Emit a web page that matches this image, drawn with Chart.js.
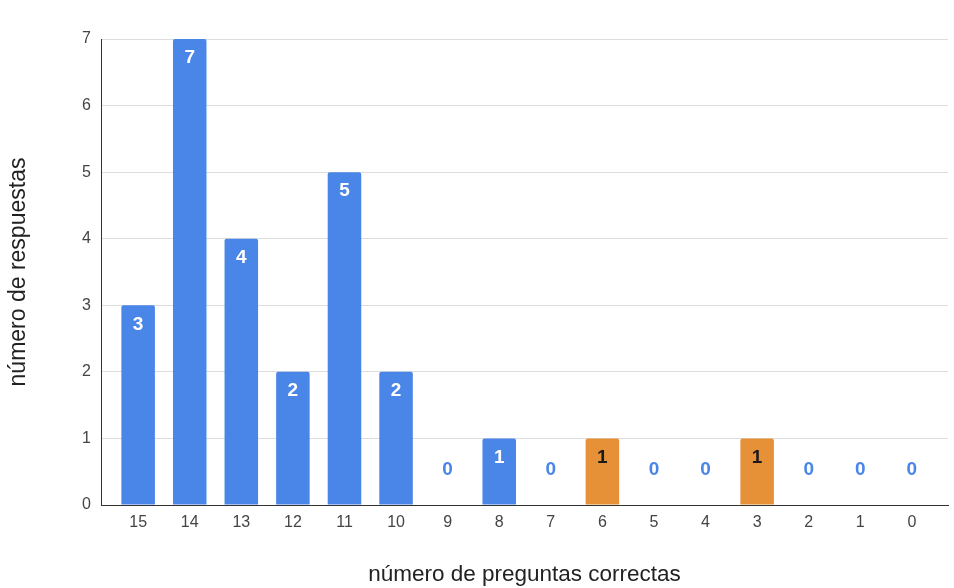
<!DOCTYPE html>
<html>
<head>
<meta charset="utf-8">
<script src="https://cdn.jsdelivr.net/npm/chart.js@4"></script>
<style>
    html, body { margin: 0; padding: 0; background: #fff; }
    #wrap { width: 954px; height: 588px; }
</style>
</head>
<body>
<div id="wrap"><canvas id="respChart" width="954" height="588"></canvas></div>
<script>
// Data
const categories = ['15', '14', '13', '12', '11', '10', '9', '8', '7', '6', '5', '4', '3', '2', '1', '0'];
const responses = [3, 7, 4, 2, 5, 2, 0, 1, 0, 1, 0, 0, 1, 0, 0, 0];
const highlighted = ['6', '3'];
const yTicks = [0, 1, 2, 3, 4, 5, 6, 7];

const BLUE = '#4a86e8';
const ORANGE = '#e69138';
const FONT = 'Arial, "Liberation Sans", sans-serif';

const barColors = categories.map(c => highlighted.includes(c) ? ORANGE : BLUE);

// Value labels drawn on top of each bar (or above the baseline for zeros)
const valueLabels = {
    id: 'valueLabels',
    afterDatasetsDraw(chart) {
        const ctx = chart.ctx;
        const meta = chart.getDatasetMeta(0);
        ctx.save();
        ctx.font = 'bold 19px ' + FONT;
        ctx.textAlign = 'center';
        ctx.textBaseline = 'middle';
        meta.data.forEach((bar, i) => {
            const v = responses[i];
            if (v === 0) {
                ctx.fillStyle = BLUE;
                ctx.fillText(String(v), bar.x, bar.base - 35);
            } else {
                ctx.fillStyle = highlighted.includes(categories[i]) ? '#1a1a1a' : '#ffffff';
                ctx.fillText(String(v), bar.x, bar.y + 19);
            }
        });
        ctx.restore();
    }
};

new Chart(document.getElementById('respChart'), {
    type: 'bar',
    data: {
        datasets: [{
            data: responses.map((v, i) => ({ x: i, y: v })),
            backgroundColor: barColors,
            borderRadius: 2,
            borderSkipped: 'bottom',
            barPercentage: 0.65,
            categoryPercentage: 1
        }]
    },
    options: {
        responsive: false,
        animation: false,
        layout: { padding: { top: 39, right: 6, left: 0, bottom: 0 } },
        plugins: {
            legend: { display: false },
            tooltip: { enabled: false }
        },
        scales: {
            x: {
                type: 'linear',
                offset: false,
                min: -0.72,
                max: 15.7,
                afterBuildTicks: function(scale) {
                    scale.ticks = categories.map((c, i) => ({ value: i }));
                },
                afterFit: function(scale) { scale.height = 83; },
                grid: { display: false, drawTicks: false, offset: false },
                border: { display: true, color: '#333333', width: 1 },
                ticks: {
                    padding: 8,
                    color: '#444444',
                    maxRotation: 0,
                    autoSkip: false,
                    font: { family: FONT, size: 16 },
                    callback: function(value) { return categories[value]; }
                },
                title: {
                    display: true,
                    text: 'número de preguntas correctas',
                    color: '#222222',
                    font: { family: FONT, size: 22.5 },
                    padding: { top: 0, bottom: 0 }
                }
            },
            y: {
                min: 0,
                max: 7,
                afterBuildTicks: function(scale) {
                    scale.ticks = yTicks.map(v => ({ value: v }));
                },
                afterFit: function(scale) { scale.width = 101; },
                grid: { color: '#dddddd', drawTicks: false },
                border: { display: true, color: '#333333', width: 1 },
                ticks: {
                    padding: 10,
                    color: '#444444',
                    font: { family: FONT, size: 16 }
                },
                title: {
                    display: true,
                    text: 'número de respuestas',
                    color: '#222222',
                    font: { family: FONT, size: 23 },
                    padding: { top: 5, bottom: 0 }
                }
            }
        }
    },
    plugins: [valueLabels]
});
</script>
</body>
</html>
